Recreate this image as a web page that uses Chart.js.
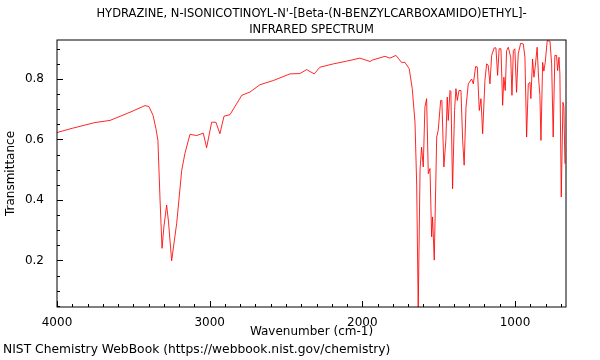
<!DOCTYPE html>
<html>
<head>
<meta charset="utf-8">
<script src="https://cdn.jsdelivr.net/npm/chart.js@4/dist/chart.umd.min.js"></script>
<style>
  html, body { margin: 0; padding: 0; background: #fff; }
  #wrap { width: 600px; height: 360px; }
</style>
</head>
<body>
<div id="wrap"><canvas id="irChart" width="600" height="360"></canvas></div>
<script>
// spectrum
const wavenumbers = [
    4000, 3900, 3751, 3653, 3522, 3424, 3398, 3371, 3352, 3339, 3325, 3312, 3300, 3282, 3270, 3249,
    3216, 3183, 3162, 3129, 3085, 3042, 3020, 2987, 2959, 2933, 2906, 2867, 2790, 2736, 2671, 2583,
    2474, 2409, 2365, 2315, 2278, 2190, 2103, 2016, 1950, 1932, 1885, 1852, 1819, 1780, 1743, 1721,
    1693, 1673, 1655, 1644, 1634, 1622, 1612, 1601, 1590, 1579, 1568, 1557, 1546, 1540, 1529, 1513,
    1503, 1487, 1479, 1466, 1453, 1444, 1437, 1426, 1420, 1409, 1396, 1387, 1378, 1367, 1354, 1343,
    1333, 1321, 1306, 1284, 1273, 1258, 1247, 1234, 1223, 1212, 1197, 1186, 1176, 1164, 1153, 1136,
    1125, 1114, 1104, 1092, 1081, 1073, 1064, 1055, 1044, 1028, 1020, 1011, 1001, 990, 979, 963,
    946, 935, 924, 913, 902, 896, 885, 876, 868, 855, 846, 837, 830, 819, 811, 802,
    789, 771, 760, 750, 739, 728, 721, 712, 706, 697, 686, 680, 673
];
const transmittance = [
    0.623, 0.637, 0.656, 0.663, 0.690, 0.712, 0.709, 0.680, 0.636, 0.597, 0.400, 0.240, 0.310, 0.383, 0.330, 0.199,
    0.323, 0.498, 0.554, 0.617, 0.613, 0.621, 0.573, 0.657, 0.657, 0.619, 0.677, 0.682, 0.746, 0.757, 0.781, 0.795,
    0.817, 0.818, 0.831, 0.817, 0.839, 0.850, 0.859, 0.869, 0.858, 0.863, 0.870, 0.875, 0.869, 0.878, 0.855, 0.855,
    0.834, 0.768, 0.657, 0.449, 0.035, 0.500, 0.575, 0.509, 0.707, 0.735, 0.487, 0.504, 0.278, 0.344, 0.201, 0.608,
    0.630, 0.729, 0.729, 0.509, 0.597, 0.740, 0.663, 0.762, 0.759, 0.437, 0.696, 0.768, 0.729, 0.762, 0.762, 0.597,
    0.515, 0.707, 0.784, 0.800, 0.784, 0.841, 0.840, 0.696, 0.735, 0.619, 0.795, 0.850, 0.846, 0.784, 0.878, 0.903,
    0.903, 0.812, 0.900, 0.900, 0.713, 0.806, 0.762, 0.894, 0.905, 0.872, 0.746, 0.894, 0.900, 0.756, 0.883, 0.918,
    0.916, 0.872, 0.608, 0.784, 0.789, 0.735, 0.866, 0.806, 0.839, 0.905, 0.806, 0.746, 0.597, 0.855, 0.826, 0.855,
    0.927, 0.925, 0.850, 0.608, 0.878, 0.878, 0.828, 0.872, 0.817, 0.410, 0.723, 0.710, 0.520
];
const xRange = [666, 4000];
const yRange = [0.046, 0.929];

const titleLines = [
    "HYDRAZINE, N-ISONICOTINOYL-N'-[Beta-(N-BENZYLCARBOXAMIDO)ETHYL]-",
    "INFRARED SPECTRUM"
];
const footerText = 'NIST Chemistry WebBook (https://webbook.nist.gov/chemistry)';

Chart.defaults.font.family = 'DejaVu Sans';
Chart.defaults.font.size = 12;
Chart.defaults.color = '#000';

// inward ticks, frame, title and footer
const decorations = {
    id: 'decorations',
    afterDatasetsDraw(chart) {
        const { ctx, chartArea: a, scales: { x, y } } = chart;
        ctx.save();
        ctx.strokeStyle = '#000';
        ctx.lineWidth = 1;
        ctx.beginPath();
        x.ticks.forEach(t => {
            const px = Math.round(x.getPixelForValue(t.value)) + 0.5;
            const len = t.value % 1000 === 0 ? 6 : 3;
            ctx.moveTo(px, a.bottom);
            ctx.lineTo(px, a.bottom - len);
        });
        y.ticks.forEach(t => {
            const py = Math.round(y.getPixelForValue(t.value)) + 0.5;
            const major = Math.abs(t.value * 5 - Math.round(t.value * 5)) < 1e-6;
            ctx.moveTo(a.left, py);
            ctx.lineTo(a.left + (major ? 6 : 3), py);
        });
        ctx.stroke();
        ctx.strokeRect(Math.round(a.left), Math.round(a.top), Math.round(a.right - a.left), Math.round(a.bottom - a.top));

        ctx.fillStyle = '#000';
        ctx.font = '11.5px "DejaVu Sans"';
        ctx.textAlign = 'center';
        ctx.textBaseline = 'middle';
        const cx = (a.left + a.right) / 2;
        ctx.fillText(titleLines[0], cx, 14);
        ctx.fillText(titleLines[1], cx, 30);
        ctx.font = '12.3px "DejaVu Sans"';
        ctx.textAlign = 'left';
        ctx.fillText(footerText, 3, 350);
        ctx.restore();
    }
};

const ctx = document.getElementById('irChart').getContext('2d');
new Chart(ctx, {
    type: 'line',
    data: {
        datasets: [{
            data: wavenumbers.map((w, i) => ({ x: w, y: transmittance[i] })),
            borderColor: 'rgba(255, 0, 0, 0.85)',
            borderWidth: 1,
            pointRadius: 0,
            tension: 0,
            fill: false
        }]
    },
    options: {
        responsive: false,
        animation: false,
        layout: { padding: { top: 40, right: 34, bottom: 16, left: 0 } },
        plugins: {
            legend: { display: false },
            tooltip: { enabled: false },
            title: { display: false }
        },
        scales: {
            x: {
                type: 'linear',
                reverse: true,
                min: xRange[0],
                max: xRange[1],
                afterFit: s => { s.height = 37; },
                grid: { display: false },
                border: { display: false },
                ticks: {
                    stepSize: 100,
                    autoSkip: false,
                    maxRotation: 0,
                    includeBounds: false,
                    padding: 1,
                    callback: v => (v % 1000 === 0 ? String(v) : '')
                },
                title: { display: true, text: 'Wavenumber (cm-1)', padding: { top: 0, bottom: 5 } }
            },
            y: {
                min: yRange[0],
                max: yRange[1],
                afterFit: s => { s.width = 57; },
                grid: { display: false },
                border: { display: false },
                ticks: {
                    stepSize: 0.05,
                    autoSkip: false,
                    includeBounds: false,
                    padding: 5,
                    callback: v => {
                        const major = Math.abs(v * 5 - Math.round(v * 5)) < 1e-6;
                        return major ? v.toFixed(1) : '';
                    }
                },
                title: { display: true, text: 'Transmittance', padding: { top: 4, bottom: 0 } }
            }
        }
    },
    plugins: [decorations]
});
</script>
</body>
</html>
